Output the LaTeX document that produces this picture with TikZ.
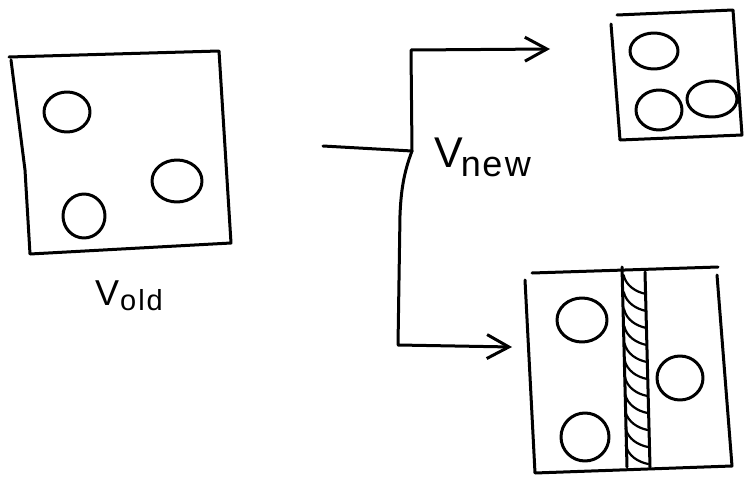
\documentclass[tikz,border=0pt]{standalone}
\usepackage{fontspec}
\setmainfont{Liberation Sans}
\usetikzlibrary{arrows.meta}
\tikzset{
  pen/.style={line width=3pt, line cap=round, line join=round, black},
  barb/.style={-{Straight Barb[length=22pt, width=24pt, line width=3pt]}},
  lbl/.style={inner sep=0pt, anchor=base west}
}
\newcommand{\bigV}[1]{{\fontsize{#1}{#1}\selectfont V}}
\newcommand{\subtxt}[3]{\raisebox{#2}{\fontsize{#1}{#1}\selectfont #3}}
\begin{document}
\begin{tikzpicture}[x=1pt, y=-1pt]
  \useasboundingbox[fill=white] (0,0) rectangle (750,479);

  % ---- old volume ----
  \draw[pen] (9,57) -- (219,51) -- (231,243) -- (30,254) -- (25,170) -- (11,60);
  \draw[pen] (67,112) ellipse [x radius=23, y radius=20];
  \draw[pen] (177,181) ellipse [x radius=25, y radius=21];
  \draw[pen] (84,216) ellipse [x radius=21, y radius=22];
  \node[lbl] (vold) at (95,305)
    {\bigV{36}\kern1pt\subtxt{29}{-5pt}{o\kern2pt l\kern2pt d}};

  % ---- split connector ----
  \coordinate (src) at (323,146);
  \coordinate (split) at (412,151);
  \coordinate (upc) at (411,50);
  \coordinate (upend) at (550,49);
  \coordinate (dnc) at (398,345);
  \coordinate (dnend) at (512,347);
  \draw[pen] (src) -- (split);
  \draw[pen, barb] (split) -- (upc) -- (upend);
  \draw[pen, barb] (split) .. controls (404,172) and (401,190) .. (400,215) -- (dnc) -- (dnend);
  \node[lbl] (vnew) at (434,167)
    {\bigV{43}\kern-2pt\subtxt{36}{-9pt}{n\kern1.5pt e\kern2.5pt w}};

  % ---- smaller volume (top right) ----
  \draw[pen] (617,15) -- (733,10) -- (742,135) -- (620,140) -- (611,24);
  \draw[pen] (654,51) ellipse [x radius=24, y radius=18];
  \draw[pen] (659,110) ellipse [x radius=23, y radius=20];
  \draw[pen] (712,99) ellipse [x radius=25, y radius=18];

  % ---- larger volume with the moving wall (bottom right) ----
  \draw[pen] (532,273) -- (718,267);
  \draw[pen] (525,280) -- (535,473) -- (732,466) -- (717,275);
  \draw[pen] (622,267) -- (627,467);
  \draw[pen] (645,272) -- (650,467);
  \foreach \y in {275,292,309,326,343,360,377,394,411,428,445} {
    \draw[line width=2.2pt, line cap=round]
      (623.5+\y/80-3.4,\y) .. controls (626+\y/80-3.4,\y+11) and (636+\y/80-3.4,\y+17) .. (646+\y/80-3.4,\y+19);
  }
  \draw[pen] (582,320) ellipse [x radius=25, y radius=22];
  \draw[pen] (585,437) ellipse [x radius=24, y radius=24];
  \draw[pen] (680,378) ellipse [x radius=23, y radius=22];
\end{tikzpicture}
\end{document}
